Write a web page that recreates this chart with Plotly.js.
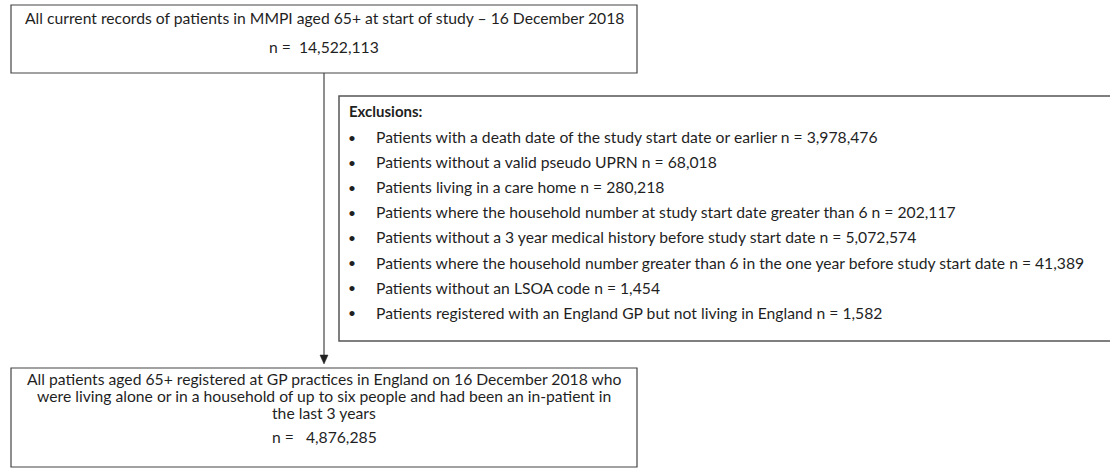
<!DOCTYPE html>
<html>
<head>
<meta charset="utf-8">
<script src="https://cdn.plot.ly/plotly-3.0.1.min.js"></script>
<style>html,body{margin:0;padding:0;background:#fff;}#chart{width:1110px;height:468px;}</style>
</head>
<body>
<div id="chart"></div>
<script>
// ---- data ----
const startText = "All current records of patients in MMPI aged 65+ at start of study \u2013 16 December 2018";
const startN = "14,522,113";
const exclusionTitle = "Exclusions:";
const exclusionLabels = [
  "Patients with a death date of the study start date or earlier",
  "Patients without a valid pseudo UPRN",
  "Patients living in a care home",
  "Patients where the household number at study start date greater than 6",
  "Patients without a 3 year medical history before study start date",
  "Patients where the household number greater than 6 in the one year before study start date",
  "Patients without an LSOA code",
  "Patients registered with an England GP but not living in England"
];
const exclusionN = ["3,978,476","68,018","280,218","202,117","5,072,574","41,389","1,454","1,582"];
const finalLines = [
  "All patients aged 65+ registered at GP practices in England on 16 December 2018 who",
  "were living alone or in a household of up to six people and had been an in-patient in",
  "the last 3 years"
];
const finalN = "4,876,285";

// ---- layout ----
const FONT = "Lato, 'Open Sans', sans-serif";
const FS = 15.7;
const TXT = "#1f1f1f";
const LINE = "#444444";

const shapes = [];
const ann = [];

function addText(x, y, text, anchor, extra) {
  ann.push(Object.assign({
    x: x, y: y, xref: 'x', yref: 'y', text: text, showarrow: false,
    xanchor: anchor, yanchor: 'middle',
    font: {family: FONT, size: FS, color: TXT}
  }, extra || {}));
}

// top box
shapes.push({type:'rect', xref:'x', yref:'y', x0:11, x1:637, y0:5, y1:73, line:{color:LINE, width:1.2}, fillcolor:'rgba(0,0,0,0)'});
addText(324, 18, startText, 'center');
addText(324, 47, "n =\u00a0 " + startN, 'center');

// connector
shapes.push({type:'line', xref:'x', yref:'y', x0:324, x1:324, y0:73, y1:357, line:{color:LINE, width:1.2}});
shapes.push({type:'path', xref:'x', yref:'y', path:'M 320,355 L 328,355 L 324,364 Z', fillcolor:'#222', line:{color:'#222', width:0.5}});

// exclusions box
shapes.push({type:'rect', xref:'x', yref:'y', x0:339, x1:1112, y0:96, y1:341, line:{color:'#555', width:1.5}, fillcolor:'#fff'});
addText(347, 111, "<b>" + exclusionTitle + "</b>", 'left', {font:{family:FONT, size:FS-0.7, color:TXT}});
const rowY0 = 137, rowStep = 25.1;
exclusionLabels.forEach((lab, i) => {
  const y = rowY0 + i * rowStep;
  addText(346, y, "\u2022", 'left', {font:{family:FONT, size:FS-2, color:TXT}});
  addText(374, y, lab + " n = " + exclusionN[i], 'left');
});

// final box
shapes.push({type:'rect', xref:'x', yref:'y', x0:11, x1:637, y0:368, y1:467, line:{color:LINE, width:1.2}, fillcolor:'rgba(0,0,0,0)'});
const finalY = [379, 396, 413];
finalLines.forEach((t, i) => addText(324, finalY[i], t, 'center'));
addText(324, 437, "n =\u00a0\u00a0 " + finalN, 'center');

Plotly.newPlot('chart', [], {
  width: 1110, height: 468,
  margin: {l:0, r:0, t:0, b:0},
  paper_bgcolor: '#fff', plot_bgcolor: '#fff',
  xaxis: {range:[0,1110], visible:false, fixedrange:true},
  yaxis: {range:[468,0], visible:false, fixedrange:true},
  shapes: shapes,
  annotations: ann,
  showlegend: false
}, {staticPlot:true});
</script>
</body>
</html>
